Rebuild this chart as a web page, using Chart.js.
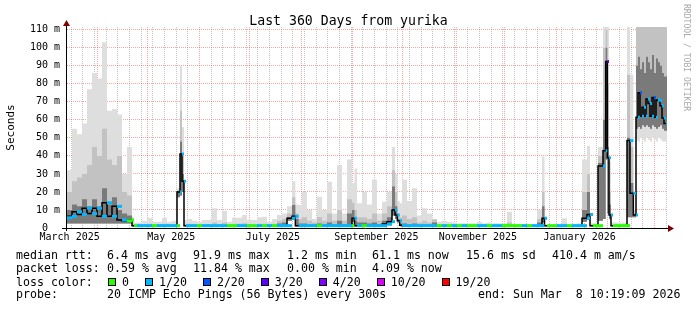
<!DOCTYPE html>
<html>
<head>
<meta charset="utf-8">
<script src="https://cdn.jsdelivr.net/npm/chart.js@4.4.0/dist/chart.umd.min.js"></script>
<style>
  html, body { margin: 0; padding: 0; background: #fff; }
  #wrap { position: relative; width: 697px; height: 310px; overflow: hidden; font-family: 'DejaVu Sans Mono', monospace; color: #000; }
  #chart { position: absolute; left: 0; top: 0; }
  #title { position: absolute; left: 0; top: 13px; width: 697px; text-align: center; font-size: 13.2px; line-height: 15px; }
  #rrd { position: absolute; left: 682px; top: 4px; writing-mode: vertical-rl; font-size: 8.1px; line-height: 10px; color: #a8a8a8; }
  .t { position: absolute; white-space: pre; font-size: 11.6px; line-height: 13px; }
  #lossLegend { position: absolute; left: 108px; top: 275.5px; height: 13px; display: flex; align-items: center; font-size: 11.6px; white-space: pre; }
  .item { display: flex; align-items: center; margin-right: 16px; }
  .box { width: 6px; height: 6px; border: 1px solid #000; margin-right: 6px; }
</style>
</head>
<body>
<div id="wrap">
  <canvas id="chart" width="697" height="310"></canvas>
  <div id="title">Last 360 Days from yurika</div>
  <div id="rrd">RRDTOOL / TOBI OETIKER</div>

  <span class="t" style="left:16px;top:249px">median rtt:</span>
  <span class="t" style="left:107px;top:249px">6.4 ms avg</span>
  <span class="t" style="left:193px;top:249px">91.9 ms max</span>
  <span class="t" style="left:287px;top:249px">1.2 ms min</span>
  <span class="t" style="left:372px;top:249px">61.1 ms now</span>
  <span class="t" style="left:466px;top:249px">15.6 ms sd</span>
  <span class="t" style="left:552px;top:249px">410.4 m am/s</span>

  <span class="t" style="left:16px;top:262px">packet loss:</span>
  <span class="t" style="left:107px;top:262px">0.59 % avg</span>
  <span class="t" style="left:193px;top:262px">11.84 % max</span>
  <span class="t" style="left:287px;top:262px">0.00 % min</span>
  <span class="t" style="left:372px;top:262px">4.09 % now</span>

  <span class="t" style="left:16px;top:275.5px">loss color:</span>
  <div id="lossLegend"></div>

  <span class="t" style="left:16px;top:288px">probe:</span>
  <span class="t" style="left:107px;top:288px">20 ICMP Echo Pings (56 Bytes) every 300s</span>
  <span class="t" style="left:478px;top:288px">end: Sun Mar  8 10:19:09 2026</span>
</div>
<script>
// bins: start day (days after Mar 13 2025 10:19:09), each value holds until the next start
const binDay = [
  0, 3, 6, 9, 12, 15, 18, 21, 24, 27, 30, 33, 36, 39,
  40.2, 42, 45, 48, 51, 54, 57, 60, 63, 66,
  67.8, 69, 70.2, 71.4,
  72, 75, 78, 81, 84, 87, 90, 93, 96, 99, 102, 105, 108, 111, 114, 117, 120, 123, 126, 129, 132,
  135, 137, 139, 141, 144, 147, 150, 153, 156, 159, 162, 165, 168,
  171, 172.5, 174, 177, 180, 183, 186, 189, 192,
  195, 196.8, 198.2, 199.6, 201, 204, 207, 210, 213, 216, 219, 222, 225, 228, 231, 234, 237, 240, 243, 246, 249, 252, 255, 258, 261, 264, 267, 270, 273, 276, 279, 282,
  285, 286.5, 288, 291, 294, 297, 300, 303, 306, 309,
  312, 313.8, 315.6, 318.6,
  321.6, 323.2, 324.2, 325.2, 326.4, 327.6, 330, 333, 336,
  337.8, 339.8, 341.4,
  342.6, 343.8, 345, 346.2, 347.4, 348.6, 349.8, 351, 352.2, 353.4, 354.6, 355.8, 357, 358.2, 359.4
];
const endDay = 360;

// smoke: top of the light band (ms)
const smokeMax = [
  38, 32, 55, 52, 58, 77, 86, 83, 103, 65, 66, 63, 30, 45,
  6.3, 3.1, 3.1, 4, 5.5, 3.5, 3.5, 5.5, 3.5, 4,
  22, 90, 56, 4.4,
  4.4, 5, 4, 3.5, 4.4, 4.4, 11, 4.4, 9.6, 3.5, 5.7, 5.7, 7.2, 4.4, 4.4, 6, 6.3, 3.5, 5, 7.2, 8,
  12, 26, 13, 12.8, 20, 10, 5, 17.4, 10, 25.7, 8, 35, 8,
  38, 25, 33, 13.7, 20, 13, 26.7, 8, 14.6,
  20, 45, 30, 15, 13.7, 26.7, 15, 22, 7, 11, 8, 5, 3.5, 4, 3.5, 3, 2.6, 2.6, 2.6, 2.6, 3.5, 2.6, 3, 2.6, 2.6, 2.6, 9, 2.2, 2.2, 2.2, 2.2, 2.2,
  10, 39.6, 2, 2, 2, 2, 5.4, 2, 2, 2.6,
  38, 45.5, 2.6, 2.6,
  45, 112, 112, 112, 37, 3, 3, 3, 3,
  112, 85, 10,
  112, 112, 112, 112, 112, 112, 112, 112, 112, 112, 112, 112, 112, 112, 112
];
// smoke: top of the medium band
const smokeMid = [
  18, 20, 26, 28, 30, 35, 45, 40, 55, 38, 35, 40, 20, 18,
  2.5, 2.2, 2.2, 2.2, 2.4, 2.2, 2.2, 2.4, 2.2, 2.2,
  21, 65, 40, 2.2,
  2.2, 2.4, 2.2, 2.2, 2.2, 2.2, 3, 2.2, 3, 2.2, 2.4, 2.4, 2.6, 2.2, 2.2, 2.4, 2.4, 2.2, 2.4, 4, 5,
  8, 17, 8, 5, 6, 4, 3, 6, 4, 8, 4, 10, 4,
  16, 14, 10, 6, 6, 5, 8, 4, 8,
  12, 32, 20, 8, 6, 7, 5, 6, 3, 4, 3, 4.8, 2.2, 2.2, 2.2, 2.2, 2.2, 2.2, 2.2, 2.2, 2.2, 2.2, 2.2, 2.2, 2.2, 2.2, 3, 2, 2, 2, 2, 2,
  5, 20, 1.8, 1.8, 1.8, 1.8, 2.4, 1.8, 1.8, 2,
  20, 30, 2, 2,
  40, 100, 110, 80, 20, 2, 2, 2, 2,
  85, 45, 8,
  112, 112, 112, 112, 112, 112, 112, 112, 112, 112, 112, 112, 112, 112, 112
];
// smoke: top of the dark band
const smokeDark = [
  9, 10, 13, 12, 16, 12, 16, 12, 22, 13, 17, 10, 8, 7,
  1.7, 1.6, 1.6, 1.6, 1.6, 1.6, 1.6, 1.6, 1.6, 1.6,
  20.5, 48, 30, 1.6,
  1.6, 1.6, 1.6, 1.6, 1.6, 1.6, 1.6, 1.6, 1.6, 1.6, 1.6, 1.6, 1.6, 1.6, 1.6, 1.6, 1.6, 1.6, 1.6, 2.5, 3,
  6, 12.8, 5, 2.5, 2.5, 2, 2, 2.5, 2, 3, 2, 4, 2,
  8, 10, 4, 3, 3, 2.5, 3, 2, 4,
  6, 23, 12, 5, 2.5, 2.5, 2, 2.5, 2, 2, 2, 3, 1.6, 1.6, 1.6, 1.6, 1.6, 1.6, 1.6, 1.6, 1.6, 1.6, 1.6, 1.6, 1.6, 1.6, 1.8, 1.6, 1.6, 1.6, 1.6, 1.6,
  3, 12, 1.5, 1.5, 1.5, 1.5, 1.6, 1.5, 1.5, 1.6,
  10, 20, 1.6, 1.6,
  36, 60, 100, 45, 13, 1.6, 1.6, 1.6, 1.6,
  50, 25, 7.5,
  90, 95, 88, 92, 86, 95, 92, 88, 96, 86, 94, 92, 90, 86, 84
];
// smoke: lower edge of the medium and dark bands
const smokeInner = [
  2.5, 2.5, 2.5, 2.5, 2.5, 2.5, 2.5, 2.5, 2.5, 2.5, 2.5, 2.5, 2.5, 2.5,
  1, 1, 1, 1, 1, 1, 1, 1, 1, 1,
  17, 18, 20, 1,
  1, 1, 1, 1, 1, 1, 1, 1, 1, 1, 1, 1, 1, 1, 1, 1, 1, 1, 1, 1, 1,
  4, 4.5, 1, 1, 1, 1, 1, 1, 1, 1, 1, 1, 1,
  1, 3.5, 1, 1, 1, 1, 1, 1, 1,
  1.5, 7, 5, 3, 1, 1, 1, 1, 1, 1, 1, 1, 1, 1, 1, 1, 1, 1, 1, 1, 1, 1, 1, 1, 1, 1, 1, 1, 1, 1, 1, 1,
  1, 3, 1, 1, 1, 1, 1, 1, 1, 1,
  3.5, 4.5, 1, 1,
  4, 5, 38, 8, 5, 1, 1, 1, 1,
  6, 6, 6,
  55, 56, 55, 57, 56, 57, 56, 55, 57, 56, 55, 56, 57, 55, 54
];
// smoke: lower edge of the light band (fastest ping)
const smokeMin = [
  2.5, 2.5, 2.5, 2.5, 2.5, 2.5, 2.5, 2.5, 2.5, 2.5, 2.5, 2.5, 2.5, 2.5,
  1, 1, 1, 1, 1, 1, 1, 1, 1, 1,
  17, 18, 20, 1,
  1, 1, 1, 1, 1, 1, 1, 1, 1, 1, 1, 1, 1, 1, 1, 1, 1, 1, 1, 1, 1,
  4, 4.5, 1, 1, 1, 1, 1, 1, 1, 1, 1, 1, 1,
  1, 3.5, 1, 1, 1, 1, 1, 1, 1,
  1.5, 7, 5, 3, 1, 1, 1, 1, 1, 1, 1, 1, 1, 1, 1, 1, 1, 1, 1, 1, 1, 1, 1, 1, 1, 1, 1, 1, 1, 1, 1, 1,
  1, 3, 1, 1, 1, 1, 1, 1, 1, 1,
  3.5, 4.5, 1, 1,
  4, 5, 38, 8, 5, 1, 1, 1, 1,
  6, 6, 6,
  49, 48, 50, 49, 48, 50, 49, 48, 50, 49, 48, 50, 49, 48, 48
];
// median rtt (ms)
const medianRtt = [
  5.7, 6.5, 9, 7.5, 11, 8, 11, 6.5, 14, 6.5, 12, 4.5, 4, 4.5,
  1.3, 1.3, 1.3, 1.3, 1.3, 1.3, 1.3, 1.3, 1.3, 1.3,
  20, 41, 26, 1.3,
  1.3, 1.3, 1.3, 1.3, 1.3, 1.3, 1.3, 1.3, 1.3, 1.3, 1.3, 1.3, 1.3, 1.3, 1.3, 1.3, 1.3, 1.3, 1.3, 1.3, 1.3,
  5.4, 6.5, 1.3, 1.3, 1.3, 1.3, 1.3, 1.3, 1.3, 1.3, 1.3, 1.3, 1.3,
  1.3, 5.4, 1.3, 1.3, 1.3, 1.3, 1.3, 1.3, 2.2,
  3.5, 10, 7.2, 4, 1.5, 1.3, 1.3, 1.3, 1.3, 1.3, 1.3, 1.3, 1.3, 1.3, 1.3, 1.3, 1.3, 1.3, 1.3, 1.3, 1.3, 1.3, 1.3, 1.3, 1.3, 1.3, 1.3, 1.3, 1.3, 1.3, 1.3, 1.3,
  1.3, 5.4, 1.3, 1.3, 1.3, 1.3, 1.3, 1.3, 1.3, 1.3,
  5.4, 7.5, 1.3, 1.3,
  34.4, 42.8, 92.4, 39, 7.2, 1.3, 1.3, 1.3, 1.3,
  48.5, 19.3, 7.2,
  61.5, 75, 62, 67, 62, 71.5, 69, 62, 72.4, 61.5, 71, 70.7, 67.8, 61, 58
];
// lost pings out of 20
const lossCount = [
  1, 1, 1, 1, 1, 1, 1, 1, 1, 1, 1, 1, 0, 0,
  0, 1, 1, 1, 0, 1, 1, 1, 1, 0,
  1, 1, 1, 1,
  1, 1, 0, 1, 1, 1, 1, 1, 0, 0, 1, 1, 0, 0, 1, 0, 1, 0, 1, 1, 1,
  1, 1, 1, 1, 1, 1, 0, 1, 1, 1, 1, 1, 1,
  0, 1, 1, 0, 1, 1, 1, 1, 1,
  1, 1, 1, 1, 1, 1, 1, 1, 1, 1, 1, 0, 1, 0, 1, 0, 1, 0, 0, 1, 1, 0, 1, 1, 0, 0, 0, 0, 1, 0, 1, 1,
  1, 1, 0, 0, 1, 1, 0, 1, 1, 1,
  1, 1, 0, 0,
  1, 1, 3, 1, 1, 0, 0, 0, 0,
  1, 1, 1,
  1, 2, 1, 1, 1, 1, 1, 1, 2, 1, 1, 1, 1, 1, 1
];

const lossLevels = [0, 1, 2, 3, 4, 10, 19];
const lossLabels = ['0', '1/20', '2/20', '3/20', '4/20', '10/20', '19/20'];
const lossColors = ['#26ff00', '#00b8ff', '#0059ff', '#5e00ff', '#7e00ff', '#dd00ff', '#ff0000'];

const yTickValues = [0, 5, 10, 15, 20, 25, 30, 35, 40, 45, 50, 55, 60, 65, 70, 75, 80, 85, 90, 95, 100, 105, 110];
const monthLabelText = ['March 2025', 'May 2025', 'July 2025', 'September 2025', 'November 2025', 'January 2026'];
const monthLabelDate = ['2025-03-15', '2025-05-15', '2025-07-15', '2025-09-15', '2025-11-15', '2026-01-15'];

[smokeMax, smokeMid, smokeDark, smokeInner, smokeMin, medianRtt, lossCount].forEach((a, i) => {
  if (a.length !== binDay.length) console.error('array ' + i + ' has ' + a.length + ' values, expected ' + binDay.length);
});

const FONT = 'DejaVu Sans Mono';
const MINOR_GRID = 'rgba(140,140,140,0.5)';
const MAJOR_GRID = 'rgba(255,40,40,0.42)';

// time grid
const DAY = 86400000;
const startMs = Date.UTC(2025, 2, 13, 10, 19, 9);
const toDay = ms => (ms - startMs) / DAY;
const parseDate = s => { const p = s.split('-').map(Number); return Date.UTC(p[0], p[1] - 1, p[2]); };

const xTickList = [];
const majorDays = [];
for (let y = 2025, m = 3; ; m++) {
  if (m > 11) { m = 0; y++; }
  const d = toDay(Date.UTC(y, m, 1));
  if (d > endDay) break;
  majorDays.push(d);
  xTickList.push({ value: d, kind: 'major' });
}
for (let t = Date.UTC(2025, 2, 16); toDay(t) <= endDay; t += 7 * DAY) {
  const d = toDay(t);
  if (!majorDays.some(v => Math.abs(v - d) < 0.01)) xTickList.push({ value: d, kind: 'minor' });
}
monthLabelText.forEach((txt, i) => {
  xTickList.push({ value: toDay(parseDate(monthLabelDate[i])), kind: 'label', text: txt });
});
xTickList.sort((a, b) => a.value - b.value);

function lossColor(n) {
  let c = lossColors[0];
  lossLevels.forEach((l, i) => { if (n >= l) c = lossColors[i]; });
  return c;
}

// stepped series: one point per bin start plus the closing point
const steps = arr => binDay.map((d, i) => ({ x: d, y: arr[i] })).concat([{ x: endDay, y: arr[arr.length - 1] }]);

// coloured median: one horizontal piece per bin
const medianPieces = [];
binDay.forEach((d, i) => {
  const end = i + 1 < binDay.length ? binDay[i + 1] : endDay;
  medianPieces.push({ x: d, y: medianRtt[i] }, { x: end, y: medianRtt[i] }, { x: end, y: null });
});

const band = (arr, extra) => Object.assign({
  data: steps(arr), stepped: 'after', pointRadius: 0, borderWidth: 0,
  borderColor: 'rgba(0,0,0,0)', fill: false
}, extra);

const rrdAxes = {
  id: 'rrdAxes',
  afterDraw(chart) {
    const { ctx, chartArea: a } = chart;
    ctx.save();
    ctx.strokeStyle = '#000';
    ctx.lineWidth = 1;
    ctx.beginPath();
    ctx.moveTo(a.left - 5, a.bottom + 0.5);
    ctx.lineTo(a.right + 2, a.bottom + 0.5);
    ctx.moveTo(a.left - 0.5, a.bottom + 3);
    ctx.lineTo(a.left - 0.5, a.top - 2);
    ctx.stroke();
    ctx.fillStyle = '#7f0000';
    ctx.beginPath();
    ctx.moveTo(a.right + 7, a.bottom + 0.5);
    ctx.lineTo(a.right + 1, a.bottom - 3);
    ctx.lineTo(a.right + 1, a.bottom + 4);
    ctx.closePath();
    ctx.fill();
    ctx.beginPath();
    ctx.moveTo(a.left - 0.5, a.top - 7);
    ctx.lineTo(a.left - 4, a.top - 1);
    ctx.lineTo(a.left + 3, a.top - 1);
    ctx.closePath();
    ctx.fill();
    ctx.restore();
  }
};

new Chart(document.getElementById('chart'), {
  type: 'line',
  data: {
    datasets: [
      {
        data: medianPieces, pointRadius: 0, borderWidth: 3, spanGaps: false,
        borderCapStyle: 'butt', fill: false, borderColor: lossColors[1],
        segment: { borderColor: c => lossColor(lossCount[Math.floor(c.p0DataIndex / 3)]) }
      },
      band(medianRtt, { borderWidth: 1.5, borderColor: '#000' }),
      band(smokeDark, { fill: 5, backgroundColor: '#7a7a7a' }),
      band(smokeMid, { fill: 5, backgroundColor: '#c2c2c2' }),
      band(smokeMax, { fill: 6, backgroundColor: '#dedede' }),
      band(smokeInner),
      band(smokeMin)
    ]
  },
  options: {
    responsive: false,
    animation: false,
    events: [],
    layout: { padding: { left: 0, top: 27, right: 30, bottom: 0 } },
    plugins: { legend: { display: false }, tooltip: { enabled: false }, title: { display: false } },
    scales: {
      x: {
        type: 'linear', min: 0, max: endDay, z: 1,
        afterBuildTicks: s => { s.ticks = xTickList.map(t => Object.assign({}, t)); },
        afterFit: s => { s.height = 82; },
        grid: {
          drawTicks: false, lineWidth: 1,
          color: c => c.tick && c.tick.kind === 'major' ? MAJOR_GRID : (c.tick && c.tick.kind === 'minor' ? MINOR_GRID : 'rgba(0,0,0,0)')
        },
        border: { display: false, dash: [1, 1] },
        ticks: {
          autoSkip: false, maxRotation: 0, minRotation: 0, padding: 3, color: '#000',
          font: { family: FONT, size: 10 },
          callback: (v, i, ticks) => ticks[i].text || ''
        }
      },
      y: {
        type: 'linear', min: 0, max: 111.5, z: 1,
        afterBuildTicks: s => { s.ticks = yTickValues.map(v => ({ value: v })); },
        afterFit: s => { s.width = 67; },
        grid: {
          drawTicks: false, lineWidth: 1,
          color: c => c.tick && c.tick.value === 0 ? 'rgba(0,0,0,0)' : (c.tick && c.tick.value % 10 === 0 ? MAJOR_GRID : MINOR_GRID)
        },
        border: { display: false, dash: [1, 1] },
        ticks: {
          padding: 7, color: '#000', font: { family: FONT, size: 10 },
          callback: v => v % 10 === 0 ? (v === 0 ? '0  ' : v + ' m') : ''
        },
        title: { display: true, text: 'Seconds', color: '#000', font: { family: FONT, size: 11 }, padding: { top: 5, bottom: 0 } }
      }
    }
  },
  plugins: [rrdAxes]
});

// loss colour legend
const leg = document.getElementById('lossLegend');
lossLabels.forEach((lbl, i) => {
  const item = document.createElement('span');
  item.className = 'item';
  const box = document.createElement('span');
  box.className = 'box';
  box.style.background = lossColors[i];
  item.appendChild(box);
  item.appendChild(document.createTextNode(lbl));
  leg.appendChild(item);
});
</script>
</body>
</html>
